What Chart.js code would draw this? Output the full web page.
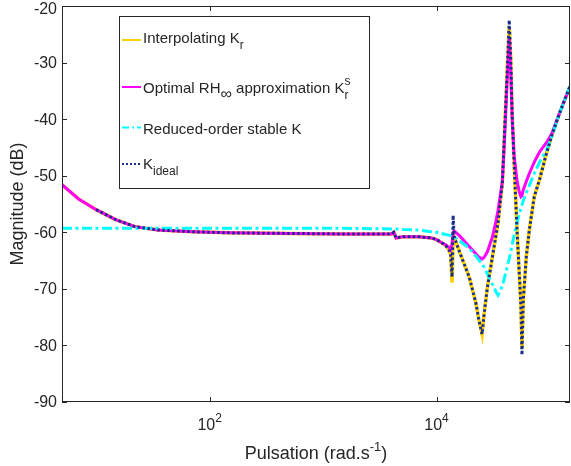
<!DOCTYPE html>
<html>
<head>
<meta charset="utf-8">
<script src="https://cdn.jsdelivr.net/npm/chart.js@4.4.0/dist/chart.umd.min.js"></script>
<style>
  html, body { margin: 0; padding: 0; background: #fff; }
</style>
</head>
<body>
<canvas id="bode" width="571" height="466"></canvas>
<script>
// pulsation grid (rad/s)
const pulsation = [5, 7, 10, 15, 22, 35, 70, 150, 500, 1500,
  4000, 4200, 4400, 5000, 7000, 9000, 10000, 11000, 12000, 12800,
  13300, 13700, 14000, 14300, 15900, 19400, 22200, 23600, 25200, 26300,
  28100, 31100, 33400, 34800, 38000, 39400, 41100, 42400, 43700, 45000,
  46400, 48300, 51300, 53500, 55400, 56600, 58100, 61800, 65700, 72600,
  80800, 92600, 104000, 122000, 150000];

// magnitudes (dB)
const interpKr = [-51.6, -54.1, -56.0, -57.8, -59.0, -59.6, -59.9, -60.1, -60.2, -60.3,
  -60.3, -60.0, -61.0, -60.8, -60.8, -61.0, -61.3, -61.8, -62.3, -63.0,
  -64.0, -68.9, -62.0, -60.8, -63.4, -67.9, -72.5, -75.5, -78.0, -74.3,
  -69.6, -64.3, -60.5, -58.4, -51.3, -44.0, -35.5, -29.1, -23.8, -29.0,
  -39.0, -48.0, -60.0, -67.0, -73.0, -80.5, -72.0, -64.3, -59.6, -53.7,
  -50.7, -46.2, -42.8, -38.8, -34.2];

const optimalKrs = [-51.6, -54.1, -56.0, -57.8, -59.0, -59.6, -59.9, -60.1, -60.2, -60.3,
  -60.3, -60.0, -61.0, -60.8, -60.8, -61.0, -61.3, -61.8, -62.2, -62.6,
  -63.1, -62.0, -60.0, -59.8, -60.6, -62.5, -63.8, -64.4, -64.7, -64.4,
  -63.4, -60.8, -58.0, -56.2, -51.0, -45.0, -37.0, -31.0, -25.5, -31.0,
  -40.0, -46.5, -51.0, -52.8, -53.7, -53.5, -52.5, -51.0, -49.6, -47.6,
  -45.8, -44.2, -42.5, -38.8, -34.2];

const reducedK = [-59.3, -59.3, -59.3, -59.3, -59.3, -59.3, -59.3, -59.3, -59.3, -59.3,
  -59.4, -59.4, -59.4, -59.5, -59.6, -59.9, -60.0, -60.2, -60.4, -60.5,
  -60.6, -60.7, -60.8, -60.8, -61.5, -62.8, -64.2, -64.9, -65.6, -66.2,
  -67.4, -69.2, -70.5, -71.1, -69.5, -68.3, -66.8, -65.7, -64.7, -63.5,
  -62.2, -60.5, -58.2, -56.8, -55.8, -55.2, -54.4, -53.0, -51.7, -49.6,
  -47.6, -45.6, -43.0, -38.8, -34.2];

const idealK = [null, null, -56.0, -57.8, -59.0, -59.6, -59.9, -60.1, -60.2, -60.3,
  -60.3, -60.0, -61.0, -60.8, -60.8, -61.0, -61.3, -61.8, -62.3, -63.0,
  -64.0, -67.9, -57.0, -60.8, -63.4, -67.9, -72.5, -75.5, -78.0, -74.3,
  -69.6, -64.3, -60.5, -58.4, -51.3, -44.0, -35.5, -29.1, -22.5, -29.0,
  -39.0, -48.0, -60.0, -67.0, -73.0, -81.7, -72.0, -64.3, -59.6, -53.7,
  -50.7, -46.2, -42.8, -38.8, -34.2];

const xTicks = [100, 10000];
const xTickExp = ['2', '4'];
const yTicks = [-90, -80, -70, -60, -50, -40, -30, -20];

const FONT = '"Liberation Sans", Arial, Helvetica, sans-serif';
const INK = '#262626';

function pts(arr) {
  return pulsation.map((w, i) => ({x: w, y: arr[i]}));
}

const series = [
  {label: 'Kr', data: pts(interpKr), borderColor: '#ffd100', borderWidth: 3.5, borderDash: [], order: 4},
  {label: 'Krs', data: pts(optimalKrs), borderColor: '#ff00ff', borderWidth: 3, borderDash: [], order: 3},
  {label: 'Kred', data: pts(reducedK), borderColor: '#00ffff', borderWidth: 3, borderDash: [10, 3.5, 3, 3.5], order: 2},
  {label: 'Kideal', data: pts(idealK), borderColor: '#1a2d8a', borderWidth: 3, borderDash: [2.5, 2.5], order: 1}
];

// legend rows: text parts, baseline, sample line y
const legendRows = [
  {ds: 0, base: 43, line: 40, parts: [{t: 'Interpolating K'}, {sub: 'r'}]},
  {ds: 1, base: 92.5, line: 87, parts: [{t: 'Optimal RH'}, {sub: '\u221E', size: 16}, {t: ' approximation K'}, {sub: 'r', sup: 's'}]},
  {ds: 2, base: 134, line: 127.5, parts: [{t: 'Reduced-order stable K'}]},
  {ds: 3, base: 169, line: 164, parts: [{t: 'K'}, {sub: 'ideal'}]}
];

function drawRich(ctx, x, base, parts, size, small) {
  parts.forEach(p => {
    if (p.t !== undefined) {
      ctx.font = size + 'px ' + FONT;
      ctx.fillText(p.t, x, base);
      x += ctx.measureText(p.t).width;
    } else {
      ctx.font = (p.size || small) + 'px ' + FONT;
      let w = 0;
      if (p.sub) { ctx.fillText(p.sub, x, base + 6); w = Math.max(w, ctx.measureText(p.sub).width); }
      if (p.sup) { ctx.fillText(p.sup, x, base - 8); w = Math.max(w, ctx.measureText(p.sup).width); }
      x += w;
    }
  });
  return x;
}

function richWidth(ctx, parts, size, small) {
  let w = 0;
  parts.forEach(p => {
    if (p.t !== undefined) { ctx.font = size + 'px ' + FONT; w += ctx.measureText(p.t).width; }
    else {
      ctx.font = (p.size || small) + 'px ' + FONT;
      w += Math.max(p.sub ? ctx.measureText(p.sub).width : 0, p.sup ? ctx.measureText(p.sup).width : 0);
    }
  });
  return w;
}

const frame = {
  id: 'frame',
  afterDraw(chart) {
    const {ctx, chartArea: a, scales: {x, y}} = chart;
    ctx.save();
    ctx.strokeStyle = INK;
    ctx.lineWidth = 1;
    ctx.beginPath();
    yTicks.forEach(v => {
      const py = Math.round(y.getPixelForValue(v)) + 0.5;
      ctx.moveTo(a.left, py); ctx.lineTo(a.left + 5, py);
      ctx.moveTo(a.right, py); ctx.lineTo(a.right - 5, py);
    });
    xTicks.forEach(v => {
      const px = Math.round(x.getPixelForValue(v)) + 0.5;
      ctx.moveTo(px, a.bottom); ctx.lineTo(px, a.bottom - 5);
      ctx.moveTo(px, a.top); ctx.lineTo(px, a.top + 5);
    });
    ctx.stroke();
    ctx.strokeRect(a.left + 0.5, a.top + 0.5, a.right - a.left - 1, a.bottom - a.top - 1);

    // y tick labels
    ctx.fillStyle = INK;
    ctx.font = '16px ' + FONT;
    ctx.textAlign = 'right';
    ctx.textBaseline = 'middle';
    yTicks.forEach(v => {
      ctx.fillText(String(v), a.left - 5, Math.max(y.getPixelForValue(v) + 1, 9.5));
    });

    // x tick labels 10^n
    ctx.textAlign = 'left';
    ctx.textBaseline = 'alphabetic';
    xTicks.forEach((v, i) => {
      const parts = [{t: '10'}, {sup: xTickExp[i], size: 12}];
      const w = richWidth(ctx, parts, 16, 12);
      drawRich(ctx, x.getPixelForValue(v) - w / 2, a.bottom + 28, parts, 16, 12);
    });

    // x axis title
    const tparts = [{t: 'Pulsation (rad.s'}, {sup: '-1', size: 13}, {t: ')'}];
    const tw = richWidth(ctx, tparts, 18, 13);
    drawRich(ctx, (a.left + a.right) / 2 - tw / 2, 459, tparts, 18, 13);

    // legend box
    const lx = 119.5, ly = 16.5, lw = 250, lh = 172;
    ctx.fillStyle = '#fff';
    ctx.fillRect(lx, ly, lw, lh);
    ctx.strokeRect(lx, ly, lw, lh);
    legendRows.forEach(r => {
      const ds = chart.data.datasets[r.ds];
      ctx.save();
      ctx.strokeStyle = ds.borderColor;
      ctx.lineWidth = 2;
      ctx.setLineDash(r.ds === 3 ? [2, 2] : r.ds === 2 ? [7, 3, 2, 3] : []);
      ctx.beginPath();
      ctx.moveTo(122, r.line);
      ctx.lineTo(141, r.line);
      ctx.stroke();
      ctx.restore();
      ctx.fillStyle = INK;
      drawRich(ctx, 143, r.base, r.parts, 15, 12);
    });
    ctx.restore();
  }
};

new Chart(document.getElementById('bode'), {
  type: 'line',
  data: {
    datasets: series.map(s => ({
      label: s.label,
      data: s.data,
      borderColor: s.borderColor,
      borderWidth: s.borderWidth,
      borderDash: s.borderDash,
      order: s.order,
      pointRadius: 0,
      tension: 0,
      fill: false
    }))
  },
  options: {
    responsive: false,
    animation: false,
    devicePixelRatio: 1,
    layout: {padding: {top: 6, right: 1, left: 0, bottom: 0}},
    plugins: {legend: {display: false}, tooltip: {enabled: false}},
    scales: {
      x: {
        type: 'logarithmic',
        min: 5,
        max: 150000,
        afterBuildTicks: s => { s.ticks = xTicks.map(v => ({value: v})); },
        afterFit: s => { s.height = 64; s.paddingLeft = 0; s.paddingRight = 0; },
        grid: {display: false, drawTicks: false},
        border: {display: false},
        ticks: {display: false}
      },
      y: {
        min: -90,
        max: -20,
        afterFit: s => { s.width = 62; s.paddingTop = 0; s.paddingBottom = 0; },
        grid: {display: false, drawTicks: false},
        border: {display: false},
        ticks: {display: false, stepSize: 10},
        title: {display: true, text: 'Magnitude (dB)', font: {family: FONT, size: 18}, color: INK, padding: {top: 7, bottom: 0}}
      }
    }
  },
  plugins: [frame]
});
</script>
</body>
</html>
